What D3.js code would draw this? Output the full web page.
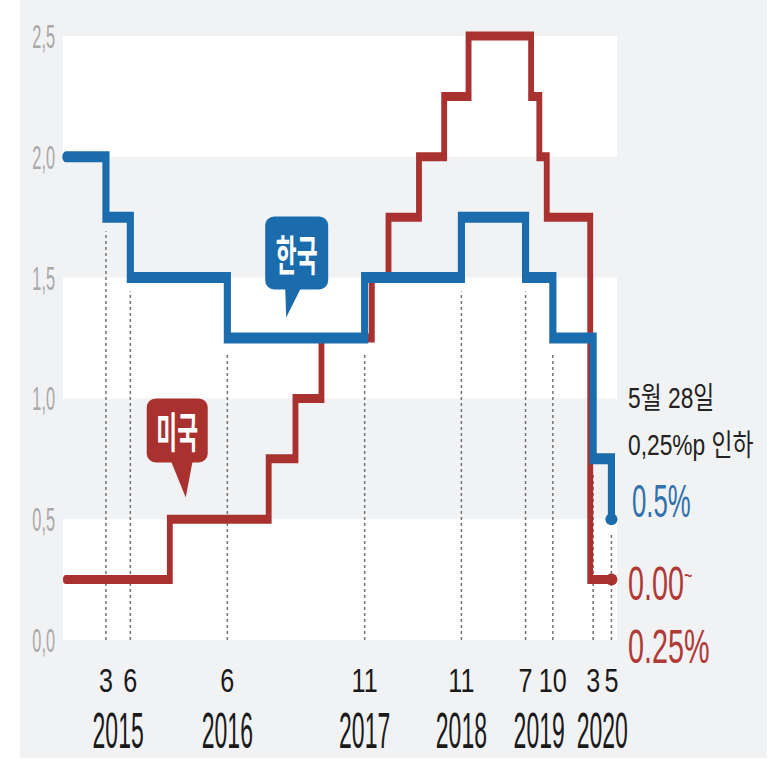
<!DOCTYPE html>
<html>
<head>
<meta charset="utf-8">
<script src="https://cdn.jsdelivr.net/npm/d3@7"></script>
<style>
  body { margin: 0; background: #fff; }
</style>
</head>
<body>
<div class="chart"></div>
<script>
// 한국 기준금리 / 미국 정책금리(상단), %
var koreaDates = ["2014-10-01", "2015-03-01", "2015-06-01", "2016-06-01", "2017-11-01",
                  "2018-11-01", "2019-07-01", "2019-10-12", "2020-03-12", "2020-05-20"];
var koreaRates = [2.0, 1.75, 1.5, 1.25, 1.5, 1.75, 1.5, 1.25, 0.75, 0.5];

var usDates = ["2014-10-01", "2015-10-28", "2016-11-04", "2017-02-13", "2017-05-22",
               "2017-11-28", "2018-01-30", "2018-05-25", "2018-08-28", "2018-11-28",
               "2019-07-22", "2019-08-22", "2019-09-19", "2020-03-01", "2020-05-20"];
var usRates = [0.25, 0.5, 0.75, 1.0, 1.25, 1.5, 1.75, 2.0, 2.25, 2.5, 2.25, 2.0, 1.75, 0.25, 0.25];

// x axis: months of the Korean rate changes, and their years
var tickMonths = ["3", "6", "6", "11", "11", "7", "10", "3", "5"];
var tickYears = ["2015", "2015", "2016", "2017", "2018", "2019", "2019", "2020", "2020"];

var yTicks = [0, 0.5, 1, 1.5, 2, 2.5];
var yTickLabels = ["0,0", "0,5", "1,0", "1,5", "2,0", "2,5"];

var blue = "#1b6cad", red = "#a93230";
var parse = d3.timeParse("%Y-%m-%d");

var korea = koreaDates.map(function(d, i) { return { date: parse(d), rate: koreaRates[i] }; });
var us = usDates.map(function(d, i) { return { date: parse(d), rate: usRates[i] }; });

var svg = d3.select(".chart").append("svg")
    .attr("width", 779)
    .attr("height", 762);

// grey panel
svg.append("rect")
    .attr("x", 20).attr("y", 0)
    .attr("width", 747).attr("height", 758)
    .attr("fill", "#f1f2f4");

var x = d3.scaleTime()
    .domain([parse("2014-09-20"), parse("2020-06-10")])
    .range([63, 617]);

var y = d3.scaleLinear()
    .domain([0, 2.5])
    .range([640, 36]);

// white bands every other 0.5
[0, 1, 2].forEach(function(v) {
  svg.append("rect")
      .attr("x", x.range()[0])
      .attr("y", y(v + 0.5))
      .attr("width", x.range()[1] - x.range()[0])
      .attr("height", y(v) - y(v + 0.5))
      .attr("fill", "#fff");
});

// y labels (condensed)
svg.append("g").selectAll("text")
    .data(yTicks)
    .enter().append("text")
    .attr("transform", function(d) { return "translate(55," + (y(d) + 12) + ") scale(0.48,1)"; })
    .attr("text-anchor", "end")
    .attr("font-family", "Liberation Sans, Arial, sans-serif")
    .attr("font-size", 34)
    .attr("fill", "#a9a9a9")
    .text(function(d, i) { return yTickLabels[i]; });

// dotted guides at each Korean rate change
var changes = korea.slice(1).map(function(d, i) {
  return { date: d.date, low: Math.min(d.rate, korea[i].rate) };
});

svg.append("g").selectAll("line")
    .data(changes)
    .enter().append("line")
    .attr("x1", function(d) { return x(d.date); })
    .attr("x2", function(d) { return x(d.date); })
    .attr("y1", y(0))
    .attr("y2", function(d) { return y(d.low) + 14; })
    .attr("stroke", "#727272")
    .attr("stroke-width", 1.5)
    .attr("stroke-dasharray", "3,3");

// step lines, drawn in a horizontally squeezed group so verticals come out thinner
var sq = 0.65;
var step = d3.line()
    .x(function(d) { return x(d.date) / sq; })
    .y(function(d) { return y(d.rate); })
    .curve(d3.curveStepAfter);

var lines = svg.append("g").attr("transform", "scale(" + sq + ",1)");

lines.append("path")
    .datum(us)
    .attr("d", step)
    .attr("fill", "none")
    .attr("stroke", red)
    .attr("stroke-width", 9)
    .attr("stroke-linecap", "round");

lines.append("path")
    .datum(korea)
    .attr("d", step)
    .attr("fill", "none")
    .attr("stroke", blue)
    .attr("stroke-width", 11)
    .attr("stroke-linecap", "round");

// end dots
[[korea, blue], [us, red]].forEach(function(s) {
  var last = s[0][s[0].length - 1];
  svg.append("circle")
      .attr("cx", x(last.date))
      .attr("cy", y(last.rate))
      .attr("r", 6)
      .attr("fill", s[1]);
});

// x labels
var xl = svg.append("g")
    .attr("font-family", "Liberation Sans, Arial, sans-serif")
    .attr("fill", "#1a1a1a")
    .attr("text-anchor", "middle");

xl.selectAll(".month")
    .data(changes)
    .enter().append("text")
    .attr("class", "month")
    .attr("transform", function(d) { return "translate(" + x(d.date) + ",692) scale(0.74,1)"; })
    .attr("font-size", 34)
    .text(function(d, i) { return tickMonths[i]; });

var years = d3.groups(changes.map(function(d, i) { return { x: x(d.date), year: tickYears[i] }; }),
                      function(d) { return d.year; });

xl.selectAll(".year")
    .data(years)
    .enter().append("text")
    .attr("class", "year")
    .attr("transform", function(d) { return "translate(" + d3.mean(d[1], function(e) { return e.x; }) + ",748) scale(0.46,1)"; })
    .attr("font-size", 50)
    .text(function(d) { return d[0]; });

// speech badges
function badge(label, tip, box, tail, color) {
  var g = svg.append("g").attr("transform", "translate(" + tip[0] + "," + tip[1] + ")");
  g.append("rect")
      .attr("x", box[0]).attr("y", box[1])
      .attr("width", box[2] - box[0]).attr("height", box[3] - box[1])
      .attr("rx", 9)
      .attr("fill", color);
  g.append("path")
      .attr("d", "M" + tail[0] + "," + (box[3] - 2) + "L" + tail[1] + "," + (box[3] - 2) + "L0,0Z")
      .attr("fill", color);
  g.append("text")
      .attr("transform", "translate(" + (box[0] + box[2]) / 2 + "," + (box[1] + box[3]) / 2 + ") scale(0.54,1)")
      .attr("text-anchor", "middle")
      .attr("dominant-baseline", "central")
      .attr("font-family", "Noto Sans CJK KR, sans-serif")
      .attr("font-weight", 700)
      .attr("font-size", 42)
      .attr("fill", "#fff")
      .text(label);
}

badge("한국", [x(parse("2017-01-09")), y(1.335)], [-21, -101, 42, -28], [-1, 15], blue);
badge("미국", [x(parse("2015-12-27")), y(0.59)], [-39, -99, 22, -35], [-15, 7], red);

// right-hand notes
var notes = svg.append("g")
    .attr("font-family", "Liberation Sans, Arial, Noto Sans CJK KR, sans-serif");

function note(txt, xx, yy, size, sx, color) {
  return notes.append("text")
      .attr("transform", "translate(" + xx + "," + yy + ") scale(" + sx + ",1)")
      .attr("font-size", size)
      .attr("fill", color)
      .text(txt);
}

note("5월 28일", 628, 408, 30, 0.76, "#222");
note("0,25%p 인하", 628, 455, 30, 0.76, "#222");
note("0.5%", 632, 517, 46, 0.56, "#2f72ad");
var t = note("0.00", 628, 600, 48, 0.6, "#b03a38");
t.append("tspan").attr("font-size", 24).attr("dy", -16).text("~");
note("0.25%", 628, 663, 48, 0.6, "#b03a38");
</script>
</body>
</html>
